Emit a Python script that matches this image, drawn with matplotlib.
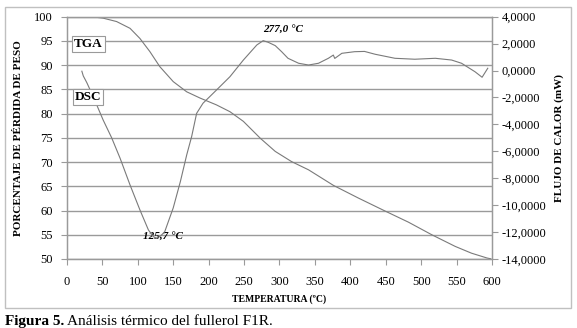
import matplotlib
matplotlib.use("Agg")
import matplotlib.pyplot as plt
from matplotlib.patches import Rectangle
from matplotlib.ticker import FuncFormatter

plt.rcParams['font.family'] = ['Liberation Serif', 'DejaVu Serif']

# TGA curve (left axis, % weight)
tga_temp = [21, 35, 51, 70, 89, 103, 117, 131, 150, 169, 188, 211, 230, 249, 273,
            294, 317, 341, 376, 411, 449, 482, 515, 548, 571, 593, 598]
tga_weight = [100, 100, 99.7, 99.0, 97.6, 95.5, 92.8, 89.7, 86.6, 84.5, 83.2, 81.8, 80.4,
              78.4, 74.9, 72.2, 70.1, 68.4, 65.2, 62.6, 59.9, 57.6, 55.0, 52.6, 51.2,
              50.2, 50.05]

# DSC curve (right axis, heat flow mW)
dsc_temp = [21, 23, 28, 37, 51, 63, 75, 89, 103, 115, 122, 126, 132, 138, 150, 160,
            169, 176, 183, 192, 211, 230, 249, 268, 277, 284, 294, 303, 312, 327, 341,
            355, 369, 376, 378, 388, 406, 420, 435, 463, 491, 520, 543, 557, 576, 586, 594]
dsc_flow = [-0.05, -0.4, -0.9, -1.94, -3.67, -4.99, -6.52, -8.5, -10.36, -11.85, -12.34,
            -12.45, -12.3, -11.97, -10.2, -8.26, -6.27, -4.9, -3.18, -2.43, -1.45, -0.46,
            0.78, 1.9, 2.22, 2.1, 1.85, 1.4, 0.91, 0.54, 0.41, 0.54, 0.91, 1.15, 0.9,
            1.28, 1.4, 1.42, 1.21, 0.91, 0.84, 0.91, 0.78, 0.54, -0.09, -0.5, 0.17]

x_ticks = list(range(0, 601, 50))
left_ticks = list(range(50, 101, 5))
right_ticks = list(range(-14, 5, 2))

line_col = '#7a7a7a'
grid_col = '#9a9a9a'

fig = plt.figure(figsize=(5.77, 3.28), dpi=100)
ax = fig.add_axes([0.1161, 0.2104, 0.7366, 0.7387])
ax2 = ax.twinx()

ax.plot(tga_temp, tga_weight, color=line_col, lw=0.8)
ax2.plot(dsc_temp, dsc_flow, color=line_col, lw=0.8)

ax.set_xlim(0, 600)
ax.set_ylim(50, 100)
ax2.set_ylim(-14, 4)
ax.set_xticks(x_ticks)
ax.set_yticks(left_ticks)
ax2.set_yticks(right_ticks)
ax2.yaxis.set_major_formatter(FuncFormatter(lambda v, p: f"{v:.4f}".replace('.', ',')))

ax.yaxis.grid(True, color=grid_col, lw=1)
ax.set_axisbelow(True)

for a in (ax, ax2):
    for s in a.spines.values():
        s.set_color(grid_col)
        s.set_linewidth(0.9)
    a.spines['top'].set_color(grid_col)
    a.tick_params(direction='out', length=4, width=0.8, color=grid_col,
                  labelsize=9, labelcolor='black', pad=3)
ax.tick_params(axis='x', pad=8)
ax.tick_params(axis='y', pad=6)

ax.set_xlabel('TEMPERATURA (ºC)', fontsize=7, fontweight='bold', labelpad=5)
ax.set_ylabel('PORCENTAJE DE PÉRDIDA DE PESO', fontsize=8, fontweight='bold', labelpad=8)
ax2.set_ylabel('FLUJO DE CALOR (mW)', fontsize=8, fontweight='bold', labelpad=6)

ax.text(305, 97.3, '277,0 °C', fontsize=8, fontweight='bold', style='italic',
        ha='center', va='center')
ax.text(135, 54.6, '125,7 °C', fontsize=8, fontweight='bold', style='italic',
        ha='center', va='center')

box = dict(boxstyle='square,pad=0.15', fc='white', ec=grid_col, lw=0.8)
ax2.text(30, 2.0, 'TGA', fontsize=9.5, fontweight='bold', ha='center', va='center', bbox=box)
ax2.text(30, -1.95, 'DSC', fontsize=9.5, fontweight='bold', ha='center', va='center', bbox=box)

# frame around chart
fig.patches.append(Rectangle((0.0087, 0.061), 0.981, 0.917, transform=fig.transFigure,
                             fill=False, ec='#c0c0c0', lw=1))

fig.text(0.0087, 0.021, 'Figura 5.', fontsize=11, fontweight='bold', va='center', ha='left')
fig.text(0.116, 0.021, 'Análisis térmico del fullerol F1R.', fontsize=11, va='center', ha='left')

fig.savefig('out.png', dpi=100)
